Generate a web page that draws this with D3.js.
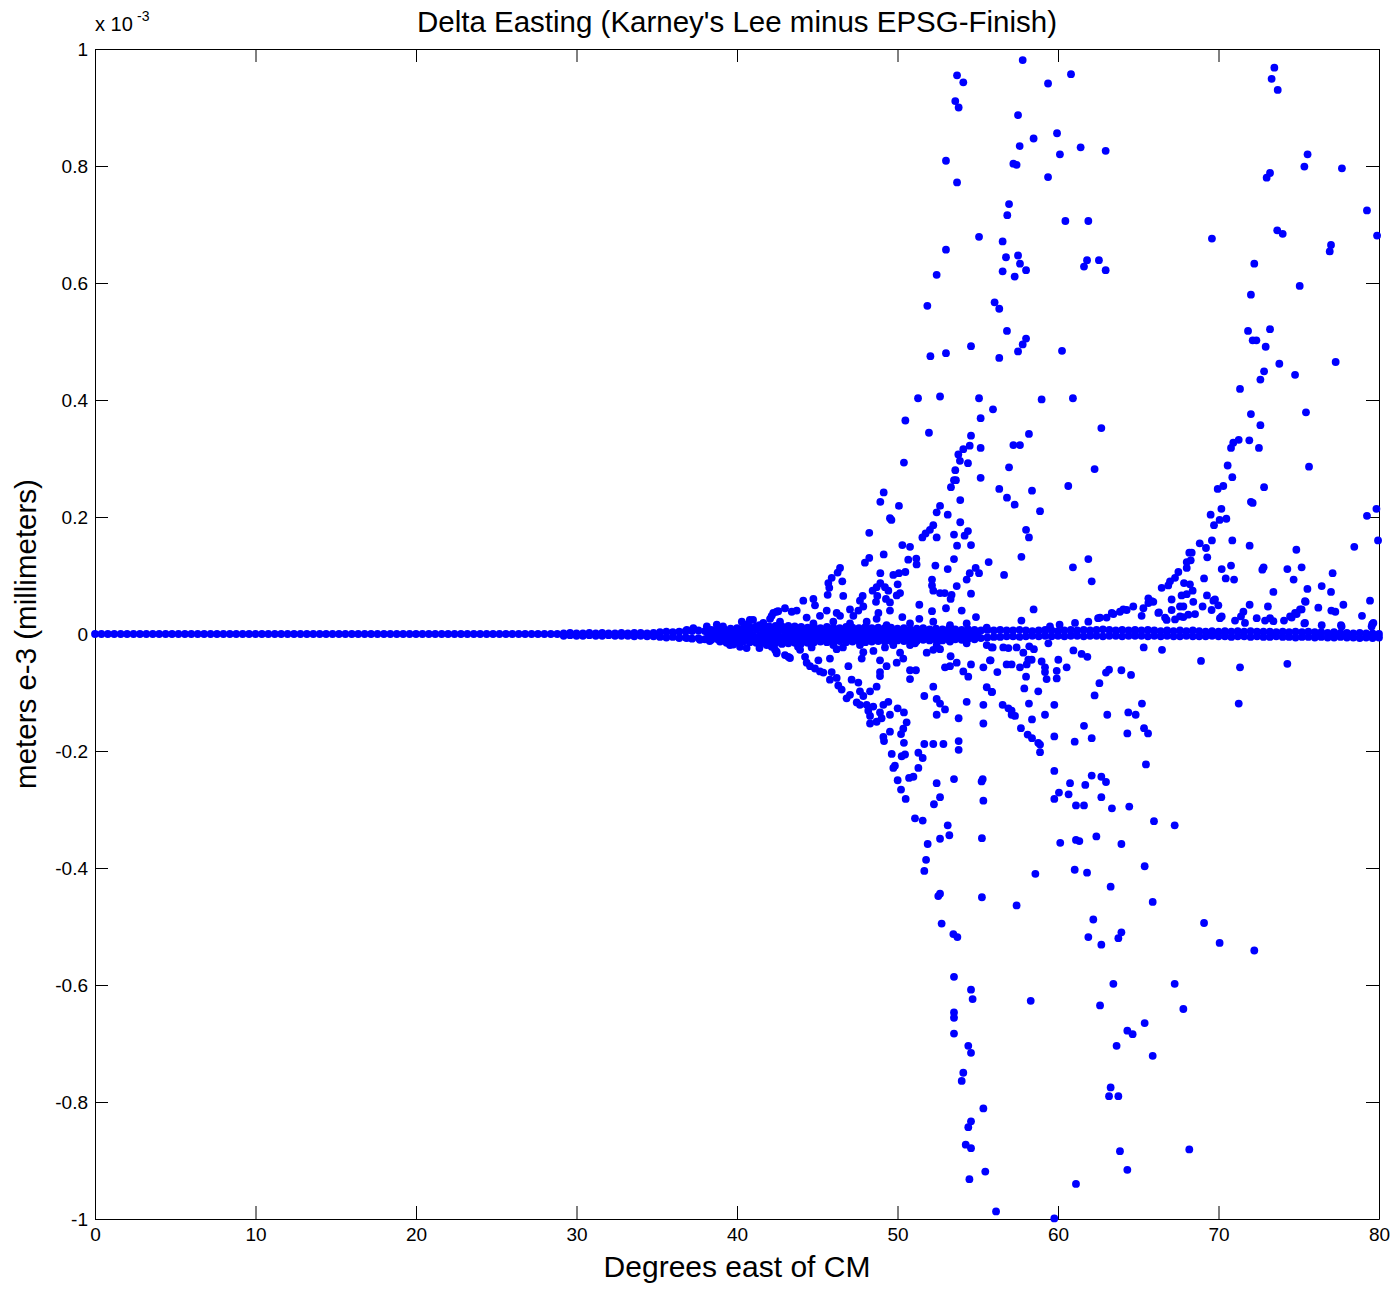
<!DOCTYPE html>
<html>
<head>
<meta charset="utf-8">
<title>Delta Easting</title>
<script src="https://cdn.jsdelivr.net/npm/d3@7"></script>
<style>
  body { margin: 0; background: #fff; }
  svg { display: block; background: #fff; }
  text { font-family: "Liberation Sans", Arial, Helvetica, sans-serif; fill: #000; }
</style>
</head>
<body>
<svg id="chart" width="1396" height="1289"></svg>
<script>
(function (d3) {
  'use strict';

  // ---- data (x: degrees east of CM, y: metres e-3) ----

  const xTicks = [0, 10, 20, 30, 40, 50, 60, 70, 80];
  const yTicks = [-1, -0.8, -0.6, -0.4, -0.2, 0, 0.2, 0.4, 0.6, 0.8, 1];

  // points that sit flat on zero, 0 .. 29 deg
  const zeroLineX = [0,0.4,0.8,1.2,1.6,2,2.4,2.8,3.2,3.6,4,4.4,4.8,5.2,5.6,6,6.4,6.8,7.2,7.6,
    8,8.4,8.8,9.2,9.6,10,10.4,10.8,11.2,11.6,12,12.4,12.8,13.2,13.6,14,14.4,14.8,15.2,15.6,
    16,16.4,16.8,17.2,17.6,18,18.4,18.8,19.2,19.6,20,20.4,20.8,21.2,21.6,22,22.4,22.8,23.2,23.6,
    24,24.4,24.8,25.2,25.6,26,26.4,26.8,27.2,27.6,28,28.4,28.8];

  // the dense band around zero, 29 .. 80 deg
  const bandX = [29.2,29.6,30,30.4,30.8,31.2,31.6,32,32.4,32.8,
    33.2,33.6,34,34.4,34.8,35.2,35.6,36,36.4,36.8,
    37.2,37.6,38,38.4,38.8,39.2,39.6,40,40.4,40.8,
    41.2,41.6,42,42.4,42.8,43.2,43.6,44,44.4,44.8,
    45.2,45.6,46,46.4,46.8,47.2,47.6,48,48.4,48.8,
    49.2,49.6,50,50.4,50.8,51.2,51.6,52,52.4,52.8,
    53.2,53.6,54,54.4,54.8,55.2,55.6,56,56.4,56.8,
    57.2,57.6,58,58.4,58.8,59.2,59.6,60,60.4,60.8,
    61.2,61.6,62,62.4,62.8,63.2,63.6,64,64.4,64.8,
    65.2,65.6,66,66.4,66.8,67.2,67.6,68,68.4,68.8,
    69.2,69.6,70,70.4,70.8,71.2,71.6,72,72.4,72.8,
    73.2,73.6,74,74.4,74.8,75.2,75.6,76,76.4,76.8,
    77.2,77.6,78,78.4,78.8,79.2,79.6,80];

  const bandUpper = [0.001,0.002,0.001,0.001,0.002,0.001,0.002,0.001,0.001,0.002,
    0.001,0.002,0.002,0.001,0.002,0.003,0.004,0.003,0.004,0.005,
    0.005,0.006,0.005,0.007,0.006,0.008,0.009,0.010,0.011,0.012,
    0.013,0.012,0.013,0.014,0.013,0.014,0.013,0.012,0.011,0.012,
    0.010,0.012,0.011,0.010,0.012,0.011,0.010,0.012,0.010,0.011,
    0.010,0.011,0.009,0.010,0.008,0.009,0.010,0.008,0.009,0.008,
    0.009,0.008,0.007,0.008,0.007,0.006,0.007,0.006,0.007,0.006,
    0.006,0.007,0.006,0.005,0.006,0.007,0.006,0.005,0.006,0.007,
    0.006,0.007,0.006,0.007,0.008,0.007,0.006,0.007,0.006,0.007,
    0.006,0.007,0.006,0.005,0.006,0.005,0.006,0.005,0.006,0.005,
    0.004,0.005,0.004,0.005,0.004,0.005,0.004,0.005,0.004,0.004,
    0.004,0.003,0.004,0.003,0.004,0.003,0.004,0.003,0.003,0.002,
    0.003,0.002,0.002,0.001,0.002,0.001,0.001,0.000];

  const bandLower = [-0.003,-0.002,-0.003,-0.003,-0.002,-0.003,-0.003,-0.002,-0.003,-0.003,
    -0.003,-0.004,-0.003,-0.004,-0.004,-0.005,-0.006,-0.005,-0.007,-0.006,
    -0.008,-0.007,-0.009,-0.010,-0.009,-0.011,-0.012,-0.013,-0.013,-0.014,
    -0.015,-0.014,-0.016,-0.016,-0.017,-0.016,-0.015,-0.016,-0.015,-0.014,
    -0.013,-0.014,-0.013,-0.012,-0.014,-0.013,-0.012,-0.014,-0.013,-0.012,
    -0.013,-0.012,-0.011,-0.012,-0.011,-0.012,-0.010,-0.011,-0.010,-0.011,
    -0.010,-0.009,-0.010,-0.008,-0.009,-0.007,-0.006,-0.005,-0.005,-0.004,
    -0.004,-0.005,-0.004,-0.003,-0.004,-0.003,-0.004,-0.003,-0.004,-0.003,
    -0.003,-0.004,-0.003,-0.003,-0.004,-0.003,-0.003,-0.004,-0.003,-0.003,
    -0.003,-0.004,-0.003,-0.004,-0.003,-0.004,-0.004,-0.003,-0.004,-0.004,
    -0.004,-0.003,-0.004,-0.004,-0.005,-0.004,-0.004,-0.005,-0.004,-0.005,
    -0.005,-0.004,-0.005,-0.005,-0.006,-0.005,-0.005,-0.006,-0.005,-0.006,
    -0.006,-0.005,-0.006,-0.006,-0.007,-0.006,-0.007,-0.006];

  // middle rows of the band where it is widest, 38 .. 55 deg
  const midX = [38.2,38.6,39,39.4,39.8,40.2,40.6,41,41.4,41.8,42.2,42.6,43,43.4,43.8,
    44.2,44.6,45,45.4,45.8,46.2,46.6,47,47.4,47.8,48.2,48.6,49,49.4,49.8,
    50.2,50.6,51,51.4,51.8,52.2,52.6,53,53.4,53.8,54.2,54.6,55];
  const midY = [-0.001,-0.002,0.000,-0.003,-0.001,-0.002,0.001,-0.002,-0.003,0.000,-0.001,-0.003,-0.002,0.001,-0.002,
    -0.001,-0.003,0.000,-0.002,-0.001,-0.003,-0.002,0.000,-0.001,-0.002,-0.003,-0.001,0.000,-0.002,-0.001,
    -0.003,-0.002,0.000,-0.001,-0.002,-0.001,-0.003,-0.002,0.000,-0.001,-0.002,-0.001,-0.002];

  const innerX = [39.2,39.6,40,40.4,40.8,41.2,41.6,42,42.4,42.8,43.2,43.6,44,44.4,44.8,
    45.2,45.6,46,46.4,46.8,47.2,47.6,48,48.4,48.8,49.2,49.6,50,50.4,50.8,
    51.2,51.6,52,52.4,52.8,53.2,53.6,54,54.4,54.8];
  const innerUp = [0.005,0.006,0.007,0.006,0.007,0.008,0.007,0.008,0.007,0.008,0.007,0.006,0.007,0.006,0.007,
    0.006,0.007,0.006,0.005,0.006,0.007,0.006,0.005,0.006,0.007,0.006,0.005,0.006,0.005,0.006,
    0.005,0.006,0.005,0.004,0.005,0.004,0.005,0.004,0.005,0.004];
  const innerLow = [-0.007,-0.008,-0.009,-0.008,-0.009,-0.010,-0.009,-0.010,-0.009,-0.010,-0.009,-0.008,-0.009,-0.008,-0.009,
    -0.008,-0.009,-0.008,-0.007,-0.008,-0.009,-0.008,-0.007,-0.008,-0.009,-0.008,-0.007,-0.008,-0.007,-0.008,
    -0.007,-0.008,-0.007,-0.006,-0.007,-0.006,-0.007,-0.006,-0.005,-0.006];

  // scattered points above zero
  const upperPts = [
    [53.71,0.955],[54.10,0.943],[53.60,0.911],[53.81,0.900],[53.02,0.809],[53.71,0.772],[55.08,0.679],[53.02,0.657],
    [52.44,0.614],[51.86,0.561],[56.05,0.567],[52.05,0.475],[53.02,0.480],[54.58,0.492],[51.28,0.403],[52.65,0.406],
    [55.08,0.403],[55.95,0.384],[50.49,0.365],[55.18,0.369],[51.96,0.344],[54.58,0.339],[50.40,0.293],[53.79,0.307],
    [54.10,0.316],[54.50,0.322],[55.18,0.318],[53.89,0.296],[54.39,0.292],[53.60,0.280],[53.52,0.263],[53.64,0.263],
    [53.33,0.251],[55.18,0.267],[53.91,0.229],[49.14,0.242],[48.93,0.226],[50.09,0.219],[52.65,0.219],[52.44,0.208],
    [53.13,0.204],[49.53,0.198],[49.62,0.195],[53.91,0.191],[52.23,0.186],[52.02,0.178],[51.75,0.172],[51.55,0.165],
    [52.44,0.165],[48.24,0.173],[54.39,0.176],[54.18,0.168],[53.52,0.170],[50.30,0.152],[50.78,0.149],[53.71,0.151],
    [54.58,0.152],[48.24,0.130],[47.97,0.122],[49.14,0.136],[50.67,0.127],[51.17,0.129],[51.19,0.119],[53.52,0.128],
    [55.68,0.123],[52.36,0.117],[53.13,0.111],[48.93,0.104],[49.74,0.101],[50.09,0.104],[50.49,0.106],[54.87,0.113],
    [55.08,0.104],[54.50,0.104],[54.31,0.093],[46.42,0.113],[46.27,0.105],[45.90,0.096],[45.69,0.087],[45.75,0.079],
    [46.56,0.090],[52.15,0.093],[52.15,0.083],[52.23,0.074],[52.65,0.070],[52.94,0.070],[50.01,0.085],[48.93,0.087],
    [48.70,0.080],[48.45,0.074],[49.22,0.080],[49.43,0.074],[50.16,0.070],[49.95,0.066],[49.53,0.054],[49.28,0.060],
    [53.69,0.082],[53.37,0.067],[53.31,0.060],[54.58,0.069],[46.62,0.065],[45.65,0.067],[47.83,0.065],[47.66,0.057],
    [47.87,0.047],[47.56,0.040],[48.74,0.065],[48.66,0.055],[44.13,0.057],[44.76,0.060],[44.86,0.049],[51.36,0.050],
    [52.15,0.039],[53.02,0.044],[54.00,0.040],[49.53,0.040],[50.30,0.029],[51.36,0.026],[54.89,0.029],[47.04,0.042],
    [47.25,0.031],[46.42,0.031],[46.21,0.036],[45.59,0.040],[45.17,0.031],[44.34,0.028],[48.81,0.036],[48.70,0.026],
    [57.80,0.981],[60.81,0.957],[59.38,0.941],[57.51,0.887],[58.48,0.847],[59.94,0.856],[57.61,0.834],[60.12,0.820],
    [61.41,0.832],[62.97,0.826],[57.22,0.804],[57.42,0.802],[59.38,0.781],[56.95,0.735],[56.84,0.716],[60.46,0.706],
    [61.89,0.706],[56.55,0.671],[56.76,0.644],[57.51,0.647],[57.63,0.633],[58.01,0.622],[56.55,0.620],[57.30,0.611],
    [61.81,0.639],[61.62,0.628],[62.55,0.639],[62.97,0.622],[56.34,0.556],[56.82,0.518],[58.01,0.505],[57.80,0.495],
    [57.51,0.483],[56.34,0.472],[60.25,0.484],[58.98,0.401],[60.93,0.403],[62.70,0.352],[58.19,0.342],[57.22,0.323],
    [57.63,0.323],[56.95,0.285],[62.28,0.282],[56.34,0.248],[58.38,0.245],[60.64,0.253],[56.82,0.233],[57.30,0.221],
    [58.88,0.210],[58.01,0.178],[58.19,0.165],[57.72,0.132],[61.89,0.128],[60.93,0.114],[56.64,0.101],[62.10,0.090],
    [58.48,0.042],[57.72,0.023],
    [68.18,0.139],[68.02,0.123],[68.02,0.113],[67.50,0.106],[67.29,0.096],[66.98,0.090],[66.87,0.083],[66.46,0.079],
    [67.08,0.059],[67.70,0.066],[67.60,0.047],[67.08,0.041],[67.81,0.029],[67.29,0.025],[66.67,0.028],[66.29,0.037],
    [65.94,0.055],[65.63,0.061],[65.32,0.044],[65.21,0.031],[64.69,0.047],[64.28,0.041],[63.86,0.038],[63.45,0.034],
    [63.03,0.028],[62.62,0.028],[61.89,0.021],
    [73.48,0.968],[73.31,0.949],[73.69,0.930],[75.55,0.820],[75.35,0.799],[77.69,0.796],[73.21,0.788],[73.00,0.780],
    [79.25,0.724],[69.59,0.676],[73.66,0.690],[74.00,0.684],[79.88,0.681],[77.01,0.665],[76.93,0.654],[72.23,0.633],
    [75.06,0.595],[72.02,0.580],[71.84,0.518],[73.21,0.521],[72.13,0.502],[72.36,0.502],[72.94,0.491],[73.79,0.462],
    [77.30,0.465],[72.84,0.449],[72.61,0.435],[74.77,0.443],[71.34,0.419],[75.45,0.379],[72.02,0.376],[72.61,0.357],
    [71.26,0.332],[71.92,0.331],[70.92,0.327],[70.78,0.318],[72.52,0.318],[70.57,0.288],[75.64,0.286],[70.86,0.268],
    [70.30,0.253],[69.95,0.248],[72.84,0.251],[72.02,0.226],[72.13,0.224],[69.51,0.204],[70.18,0.214],[69.72,0.186],
    [70.07,0.195],[70.49,0.197],[69.59,0.160],[70.86,0.160],[71.94,0.151],[79.25,0.202],[79.84,0.214],[79.94,0.160],
    [78.46,0.149],[74.85,0.144],[68.83,0.155],[69.22,0.147],[69.30,0.131],[68.33,0.139],[68.27,0.126],[70.20,0.111],
    [70.78,0.117],[70.45,0.095],[70.97,0.093],[69.10,0.095],[72.73,0.110],[72.81,0.114],[74.29,0.111],[75.18,0.114],
    [74.68,0.093],[77.11,0.104],[76.43,0.082],[75.54,0.077],[77.01,0.072],[73.42,0.072],[67.85,0.087],[68.22,0.085],
    [68.39,0.074],[68.02,0.068],[68.43,0.055],[69.28,0.066],[69.68,0.057],[69.99,0.049],[69.57,0.041],[69.01,0.047],
    [67.81,0.047],[68.54,0.034],[71.94,0.050],[73.08,0.047],[71.55,0.038],[71.40,0.030],[75.43,0.055],[75.18,0.042],
    [74.87,0.034],[74.56,0.028],[76.22,0.045],[77.03,0.040],[77.28,0.038],[77.78,0.050],[79.44,0.057],[78.94,0.031],
    [79.58,0.017],[77.63,0.015],[75.35,0.018],[70.20,0.030],[71.03,0.023],[72.38,0.027],[72.90,0.023],[73.21,0.027],
    [74.08,0.023],[76.43,0.015],
    [59.50,0.013],[60.10,0.016],[61.06,0.019],[62.50,0.027],[63.35,0.036],[64.07,0.042],[65.63,0.053],[65.84,0.056],
    [66.25,0.036],[66.77,0.024],[67.60,0.030],[68.12,0.033],[69.78,0.059],[70.09,0.027],[71.65,0.019],[73.42,0.022],
    [74.46,0.030],[74.77,0.036],[75.08,0.042],[75.39,0.056],[75.39,0.019],[77.67,0.013],[79.65,0.019],[79.54,0.013],
    [42.99,0.044],[42.47,0.038],[42.16,0.031],[42.06,0.026],[42.68,0.021],[41.00,0.024],[40.80,0.024],[40.30,0.021],
    [41.40,0.015],[43.41,0.038],[43.72,0.040],[42.26,0.036],[42.57,0.039],[41.64,0.019],[40.60,0.016],[39.13,0.013],
    [38.74,0.016],[38.12,0.013],[37.28,0.010],[36.87,0.007],
    [44.76,0.018],[46.00,0.021],[47.04,0.018],[48.08,0.021],[49.32,0.015],[50.78,0.018],[52.23,0.021],[53.27,0.015],
    [54.31,0.018],[55.56,0.011]
  ];

  // scattered points below zero
  const lowerPts = [
    [44.24,-0.039],[44.34,-0.049],[44.55,-0.055],[45.07,-0.045],[44.86,-0.059],[45.17,-0.064],[45.38,-0.066],[46.21,-0.026],
    [45.79,-0.042],[45.90,-0.065],[45.79,-0.078],[46.21,-0.075],[46.31,-0.088],[46.52,-0.095],[46.94,-0.055],[47.14,-0.078],
    [47.56,-0.083],[47.66,-0.098],[47.87,-0.106],[47.04,-0.104],[46.83,-0.110],[47.46,-0.117],[47.66,-0.121],[47.77,-0.042],
    [47.87,-0.031],[48.29,-0.098],[48.70,-0.090],[48.91,-0.045],[48.91,-0.065],[48.91,-0.072],[49.32,-0.055],[49.95,-0.049],
    [48.08,-0.121],[48.18,-0.131],[48.29,-0.140],[48.49,-0.124],[48.29,-0.153],[48.70,-0.150],[48.91,-0.134],[49.12,-0.121],
    [49.43,-0.116],[49.01,-0.144],[49.53,-0.138],[49.12,-0.176],[49.16,-0.183],[49.53,-0.167],[50.01,-0.127],[50.40,-0.134],
    [50.57,-0.151],[50.36,-0.162],[50.22,-0.171],[50.40,-0.186],[49.64,-0.205],[50.26,-0.209],[50.47,-0.206],[49.74,-0.229],
    [49.84,-0.225],[50.01,-0.250],[50.22,-0.266],[50.51,-0.282],[50.78,-0.062],[50.78,-0.077],[51.15,-0.062],[50.36,-0.042],
    [50.16,-0.032],[51.67,-0.106],[52.23,-0.090],[52.44,-0.111],[52.65,-0.119],[52.96,-0.129],[52.44,-0.138],[51.67,-0.188],
    [52.23,-0.188],[52.86,-0.188],[51.30,-0.203],[51.57,-0.212],[51.30,-0.229],[50.72,-0.246],[50.99,-0.244],[52.44,-0.255],
    [52.65,-0.279],[52.27,-0.291],[51.09,-0.315],[51.57,-0.319],[53.13,-0.327],[53.23,-0.344],[52.65,-0.350],[51.88,-0.359],
    [51.78,-0.386],[51.67,-0.405],[52.65,-0.444],[52.54,-0.448],[52.75,-0.495],[53.48,-0.513],[53.73,-0.518],[53.52,-0.586],
    [54.58,-0.608],[54.68,-0.624],[53.52,-0.647],[53.52,-0.656],[53.52,-0.683],[54.41,-0.704],[54.58,-0.716],[54.10,-0.750],
    [54.00,-0.764],[55.35,-0.811],[54.58,-0.833],[54.41,-0.843],[54.25,-0.873],[54.58,-0.879],[55.47,-0.919],[54.48,-0.932],
    [56.14,-0.987],[53.52,-0.248],[53.81,-0.183],[53.81,-0.198],[53.81,-0.144],[54.31,-0.116],[55.31,-0.248],[55.24,-0.252],
    [55.35,-0.285],[55.26,-0.349],[55.26,-0.450],[55.35,-0.153],[55.35,-0.121],[55.56,-0.091],[55.87,-0.099],[53.69,-0.049],
    [54.10,-0.064],[54.41,-0.073],[54.58,-0.052],[55.35,-0.057],[55.80,-0.045],[55.87,-0.023],[52.96,-0.057],[53.27,-0.055],
    [53.31,-0.038],[52.23,-0.027],[52.65,-0.026],
    [55.93,-0.023],[56.59,-0.023],[56.91,-0.024],[57.42,-0.023],[57.84,-0.032],[58.21,-0.021],[58.50,-0.026],[59.40,-0.016],
    [58.15,-0.044],[58.36,-0.044],[58.98,-0.047],[60.02,-0.044],[60.96,-0.028],[61.47,-0.034],[61.83,-0.039],[55.76,-0.045],
    [56.22,-0.065],[56.80,-0.052],[57.11,-0.052],[57.63,-0.057],[58.05,-0.052],[58.01,-0.073],[57.90,-0.093],[58.77,-0.098],
    [59.19,-0.057],[59.19,-0.065],[59.29,-0.077],[59.92,-0.063],[59.92,-0.076],[60.54,-0.057],[55.89,-0.099],[56.55,-0.121],
    [56.91,-0.127],[57.11,-0.131],[57.32,-0.140],[57.11,-0.138],[58.19,-0.119],[58.38,-0.146],[57.69,-0.161],[58.11,-0.172],
    [58.38,-0.178],[58.77,-0.186],[58.88,-0.189],[58.88,-0.202],[59.19,-0.138],[59.77,-0.121],[59.77,-0.175],[59.77,-0.234],
    [59.77,-0.282],[60.06,-0.271],[60.75,-0.255],[60.66,-0.274],[61.04,-0.184],[61.62,-0.157],[62.10,-0.178],[61.70,-0.258],
    [62.10,-0.242],[62.70,-0.244],[62.99,-0.253],[62.70,-0.279],[62.28,-0.105],[62.58,-0.084],[62.99,-0.066],[63.18,-0.061],
    [63.95,-0.062],[64.55,-0.070],[65.23,-0.119],[64.38,-0.134],[64.84,-0.138],[63.07,-0.138],[64.32,-0.170],[65.36,-0.161],
    [65.61,-0.170],[65.48,-0.223],[61.12,-0.293],[61.62,-0.293],[63.36,-0.298],[64.44,-0.295],[65.98,-0.320],[67.27,-0.327],
    [65.34,-0.023],[66.48,-0.027],[60.14,-0.357],[61.12,-0.352],[61.33,-0.354],[62.39,-0.346],[63.95,-0.359],[58.59,-0.410],
    [61.04,-0.403],[61.81,-0.408],[63.28,-0.432],[65.40,-0.397],[65.90,-0.458],[57.42,-0.464],[62.20,-0.488],[61.89,-0.518],
    [62.70,-0.531],[63.95,-0.510],[63.76,-0.520],[63.45,-0.598],[67.27,-0.598],[58.30,-0.627],[62.62,-0.635],[67.81,-0.641],
    [65.40,-0.665],[64.32,-0.678],[64.65,-0.684],[63.65,-0.704],[65.90,-0.721],[63.28,-0.775],[63.18,-0.790],[63.76,-0.790],
    [63.86,-0.884],[68.18,-0.881],[64.32,-0.916],[61.12,-0.940],[59.77,-0.999],
    [68.91,-0.046],[71.34,-0.057],[74.29,-0.051],[71.26,-0.119],[69.10,-0.494],[70.07,-0.528],[72.23,-0.541],
    [43.80,-0.022],[43.93,-0.027],[42.99,-0.036],[43.20,-0.039],[43.30,-0.041],[42.37,-0.027],[42.47,-0.033],[41.85,-0.019],
    [42.16,-0.022],[38.94,-0.013],[39.56,-0.019],[40.19,-0.022],[42.47,-0.030],[41.40,-0.024],[40.60,-0.024],[39.77,-0.018],
    [39.35,-0.015],[38.30,-0.012],[37.69,-0.010],[36.87,-0.007],
    [43.93,-0.019],[44.65,-0.023],[46.00,-0.019],[46.60,-0.023],[47.66,-0.019],[48.50,-0.029],[49.22,-0.023],[49.74,-0.019],
    [50.78,-0.019],[51.09,-0.016],[51.82,-0.032],[52.44,-0.019],[53.27,-0.013],[54.31,-0.016],[54.72,-0.006],[55.56,-0.019]
  ];

  // ---- layout ----
  const svg = d3.select('#chart');
  const width = +svg.attr('width');
  const height = +svg.attr('height');
  const plot = { left: 95, right: 1379, top: 49, bottom: 1219 };
  const tickLen = 13;
  const fontFamily = '"Liberation Sans", Arial, Helvetica, sans-serif';

  svg.append('rect').attr('width', width).attr('height', height).attr('fill', '#fff');

  const x = d3.scaleLinear().domain([0, 80]).range([plot.left, plot.right]);
  const y = d3.scaleLinear().domain([-1, 1]).range([plot.bottom, plot.top]);

  const fmt = d => String(+d.toFixed(1));

  // style an axis group the MATLAB way
  const styleAxis = g => {
    g.attr('font-family', fontFamily).attr('font-size', 19);
    g.selectAll('.domain').attr('stroke', '#000').attr('stroke-width', 1);
    g.selectAll('.tick line').attr('stroke', '#000').attr('stroke-width', 1);
    g.selectAll('.tick text').attr('fill', '#000');
  };

  // bottom + left carry labels, top + right only ticks (box)
  svg.append('g')
    .attr('transform', `translate(0,${plot.bottom})`)
    .call(d3.axisBottom(x).tickValues(xTicks).tickFormat(fmt)
      .tickSizeInner(-tickLen).tickSizeOuter(0).tickPadding(9))
    .call(styleAxis);

  svg.append('g')
    .attr('transform', `translate(${plot.left},0)`)
    .call(d3.axisLeft(y).tickValues(yTicks).tickFormat(fmt)
      .tickSizeInner(-tickLen).tickSizeOuter(0).tickPadding(7))
    .call(styleAxis);

  svg.append('g')
    .attr('transform', `translate(0,${plot.top})`)
    .call(d3.axisTop(x).tickValues(xTicks).tickFormat('')
      .tickSizeInner(-tickLen).tickSizeOuter(0))
    .call(styleAxis);

  svg.append('g')
    .attr('transform', `translate(${plot.right},0)`)
    .call(d3.axisRight(y).tickValues(yTicks).tickFormat('')
      .tickSizeInner(-tickLen).tickSizeOuter(0))
    .call(styleAxis);

  // ---- points ----
  const allPts = [].concat(
    zeroLineX.map(v => [v, 0]),
    d3.zip(bandX, bandUpper),
    d3.zip(bandX, bandLower),
    d3.zip(midX, midY),
    d3.zip(innerX, innerUp),
    d3.zip(innerX, innerLow),
    upperPts,
    lowerPts
  );

  svg.append('g')
    .selectAll('circle')
    .data(allPts)
    .join('circle')
      .attr('cx', d => x(d[0]))
      .attr('cy', d => y(d[1]))
      .attr('r', 3.9)
      .attr('fill', '#0000ff');

  // ---- texts ----
  svg.append('text')
    .attr('x', (plot.left + plot.right) / 2)
    .attr('y', 32)
    .attr('text-anchor', 'middle')
    .attr('font-size', 29.5)
    .text("Delta Easting (Karney's Lee minus EPSG-Finish)");

  svg.append('text')
    .attr('x', (plot.left + plot.right) / 2)
    .attr('y', 1277)
    .attr('text-anchor', 'middle')
    .attr('font-size', 30)
    .text('Degrees east of CM');

  svg.append('text')
    .attr('transform', `translate(36,${(plot.top + plot.bottom) / 2}) rotate(-90)`)
    .attr('text-anchor', 'middle')
    .attr('font-size', 29.5)
    .text('meters e-3 (millimeters)');

  // exponent note above the y axis
  svg.append('text')
    .attr('x', 95)
    .attr('y', 31)
    .attr('font-size', 20)
    .text('x 10');
  svg.append('text')
    .attr('x', 137)
    .attr('y', 21)
    .attr('font-size', 14)
    .text('-3');

}(d3));
</script>
</body>
</html>
